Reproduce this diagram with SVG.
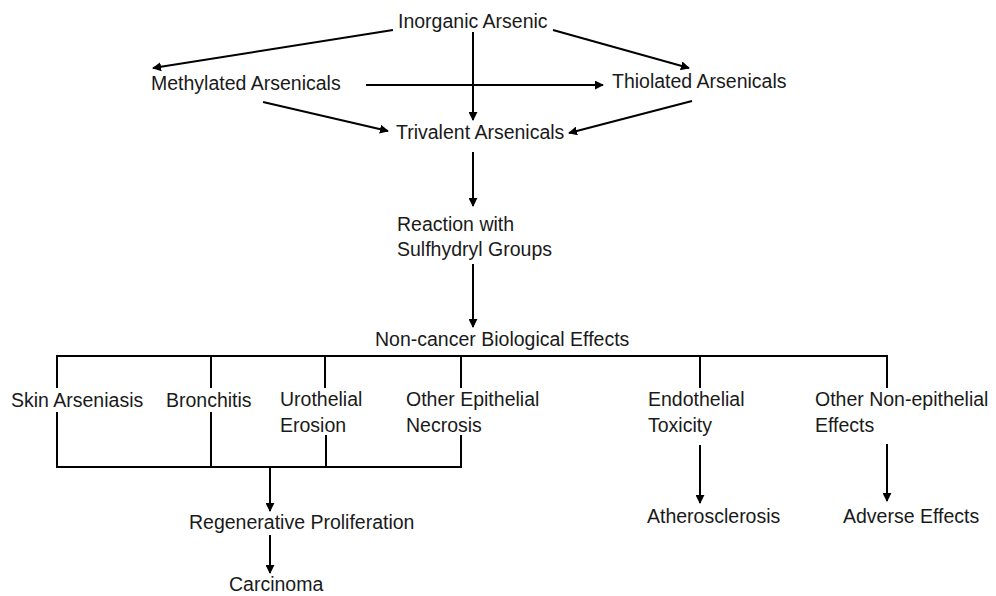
<svg xmlns="http://www.w3.org/2000/svg" width="996" height="596" viewBox="0 0 996 596">
<style>
text{font-family:"Liberation Sans",Arial,sans-serif;font-size:19.5px;fill:#1a1a1a}
.c line,.c polyline{stroke:#000;stroke-width:2;fill:none}
</style>
<defs>
<marker id="ah" viewBox="0 0 10 10" refX="9" refY="5" markerWidth="4.5" markerHeight="4.5" orient="auto" markerUnits="strokeWidth">
<path d="M0,0L10,5L0,10z" fill="#000"/>
</marker>
</defs>
<rect width="996" height="596" fill="#fff"/>
<g class="c" id="connectors">
<line x1="393" y1="30" x2="153" y2="68" marker-end="url(#ah)"/>
<line x1="553" y1="30" x2="689" y2="68" marker-end="url(#ah)"/>
<line x1="473" y1="32" x2="473" y2="120" marker-end="url(#ah)"/>
<line x1="366" y1="85" x2="603" y2="85" marker-end="url(#ah)"/>
<line x1="263" y1="102" x2="388" y2="131" marker-end="url(#ah)"/>
<line x1="692" y1="101" x2="569" y2="133" marker-end="url(#ah)"/>
<line x1="473" y1="152" x2="473" y2="206" marker-end="url(#ah)"/>
<line x1="473" y1="264" x2="473" y2="327" marker-end="url(#ah)"/>
<line x1="56" y1="356" x2="888" y2="356"/>
<line x1="57" y1="356" x2="57" y2="388"/>
<line x1="211" y1="356" x2="211" y2="388"/>
<line x1="325" y1="356" x2="325" y2="388"/>
<line x1="461" y1="356" x2="461" y2="388"/>
<line x1="700" y1="356" x2="700" y2="388"/>
<line x1="887" y1="356" x2="887" y2="388"/>
<line x1="57" y1="412" x2="57" y2="467"/>
<line x1="211" y1="412" x2="211" y2="467"/>
<line x1="326" y1="435" x2="326" y2="467"/>
<line x1="461" y1="435" x2="461" y2="467"/>
<line x1="56" y1="467" x2="462" y2="467"/>
<line x1="270" y1="467" x2="270" y2="511" marker-end="url(#ah)"/>
<line x1="270" y1="535" x2="270" y2="573" marker-end="url(#ah)"/>
<line x1="700" y1="445" x2="700" y2="503" marker-end="url(#ah)"/>
<line x1="887" y1="444" x2="887" y2="501" marker-end="url(#ah)"/>
</g>
<g id="inorganic"><text x="398" y="28">Inorganic Arsenic</text></g>
<g id="methylated"><text x="151" y="90">Methylated Arsenicals</text></g>
<g id="thiolated"><text x="612" y="88">Thiolated Arsenicals</text></g>
<g id="trivalent"><text x="396" y="139">Trivalent Arsenicals</text></g>
<g id="reaction"><text x="397" y="231">Reaction with</text><text x="397" y="256">Sulfhydryl Groups</text></g>
<g id="noncancer"><text x="375" y="346">Non-cancer Biological Effects</text></g>
<g id="skin"><text x="11" y="407">Skin Arseniasis</text></g>
<g id="bronchitis"><text x="166" y="407">Bronchitis</text></g>
<g id="urothelial"><text x="280" y="406">Urothelial</text><text x="280" y="432">Erosion</text></g>
<g id="otherepi"><text x="406" y="406">Other Epithelial</text><text x="406" y="432">Necrosis</text></g>
<g id="endothelial"><text x="648" y="406">Endothelial</text><text x="648" y="432">Toxicity</text></g>
<g id="othernonepi"><text x="815" y="406">Other Non-epithelial</text><text x="815" y="432">Effects</text></g>
<g id="regenerative"><text x="189" y="529">Regenerative Proliferation</text></g>
<g id="carcinoma"><text x="229" y="591">Carcinoma</text></g>
<g id="atherosclerosis"><text x="647" y="523">Atherosclerosis</text></g>
<g id="adverse"><text x="843" y="523">Adverse Effects</text></g>
</svg>
